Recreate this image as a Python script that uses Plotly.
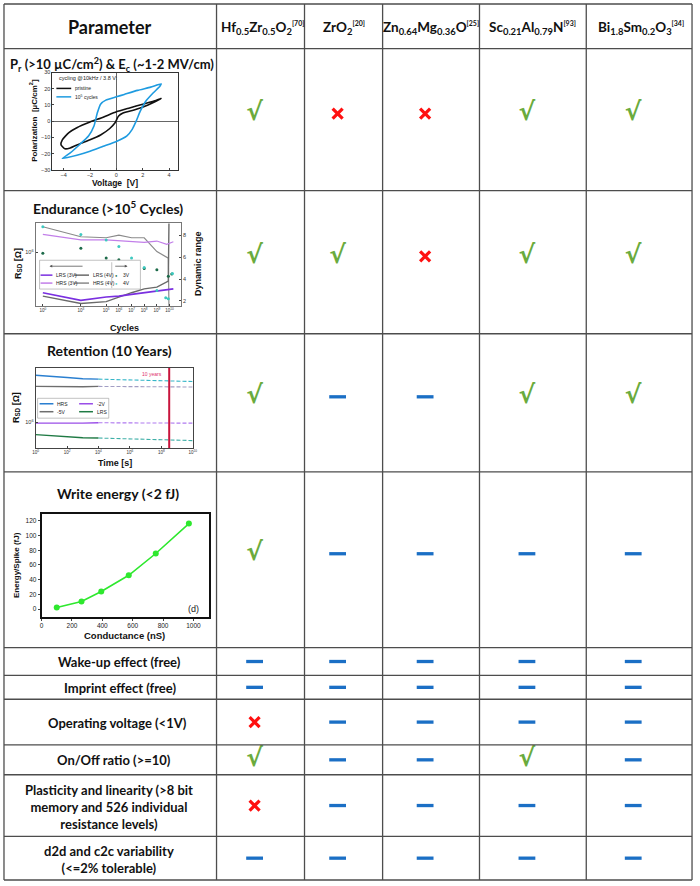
import plotly.graph_objects as go
import math

W, H = 700, 886
TF = "Lato, Carlito, sans-serif"
AF = "Liberation Sans, Arial, sans-serif"

# ---------------- table data ----------------
col_edges = [1, 216, 305, 384, 482, 590, 697]
row_edges = [1, 46, 189, 333, 472, 649, 677, 701, 747, 777, 839, 883]
header_label = "Parameter"
materials = [
    "Hf<sub>0.5</sub>Zr<sub>0.5</sub>O<sub>2</sub><sup>[70]</sup>",
    "ZrO<sub>2</sub><sup>[20]</sup>",
    "Zn<sub>0.64</sub>Mg<sub>0.36</sub>O<sup>[25]</sup>",
    "Sc<sub>0.21</sub>Al<sub>0.79</sub>N<sup>[93]</sup>",
    "Bi<sub>1.8</sub>Sm<sub>0.2</sub>O<sub>3</sub><sup>[34]</sup>",
]
parameters = [
    "P<sub>r</sub> (>10 µC/cm<sup>2</sup>) & E<sub>c</sub> (~1-2 MV/cm)",
    "Endurance (>10<sup>5</sup> Cycles)",
    "Retention (10 Years)",
    "Write energy (<2 fJ)",
    "Wake-up effect (free)",
    "Imprint effect (free)",
    "Operating voltage (<1V)",
    "On/Off ratio (>=10)",
    "Plasticity and linearity (>8 bit<br>memory and 526 individual<br>resistance levels)",
    "d2d and c2c variability<br>(<=2% tolerable)",
]
# Y = fulfilled (check), N = not fulfilled (cross), U = not reported (dash)
status = [
    ["Y", "N", "N", "Y", "Y"],
    ["Y", "Y", "N", "Y", "Y"],
    ["Y", "U", "U", "Y", "Y"],
    ["Y", "U", "U", "U", "U"],
    ["U", "U", "U", "U", "U"],
    ["U", "U", "U", "U", "U"],
    ["N", "U", "U", "U", "U"],
    ["Y", "U", "U", "Y", "U"],
    ["N", "U", "U", "U", "U"],
    ["U", "U", "U", "U", "U"],
]

# ---------------- chart 1: P-V hysteresis ----------------
pristine_v = [-4.2, -4.1, -3.6, -3.0, -2.0, -1.0, 0.0, 1.0, 2.0, 3.0, 3.4, 2.4, 1.4, 0.5, 0.15, -0.1, -0.5, -1.2, -2.0, -2.8, -3.5, -3.9, -4.2]
pristine_p = [-14.5, -11.5, -7.0, -4.0, -0.5, 2.5, 5.8, 8.2, 10.5, 12.8, 14.0, 10.0, 7.0, 5.0, 3.0, -1.0, -4.5, -8.5, -11.5, -14.0, -16.5, -17.0, -14.5]
cycled_v = [-4.1, -3.0, -2.0, -1.0, 0.0, 0.8, 1.2, 1.5, 1.8, 2.2, 2.8, 3.3, 3.4, 2.6, 1.6, 0.6, 0.0, -0.8, -1.2, -1.45, -1.7, -2.1, -2.8, -3.5, -4.1]
cycled_p = [-23.0, -21.0, -18.5, -15.5, -12.5, -9.0, -5.0, 0.0, 6.0, 12.0, 17.5, 21.5, 23.0, 21.0, 19.0, 16.5, 15.0, 13.0, 10.5, 5.0, -3.0, -9.0, -14.5, -19.5, -23.0]

# ---------------- chart 2: endurance ----------------
cycles_3v = [1, 1e3, 1e5, 1e6, 1e7, 1e8, 1e9, 6e9, 2e10]
lrs_3v = [2.72e5, 2.13e5, 2.37e5, 2.44e5, 2.58e5, 2.72e5, 2.92e5, 2.99e5, 3.08e5]
hrs_3v = [1.77e6, 1.48e6, 1.48e6, 1.45e6, 1.43e6, 1.37e6, 1.43e6, 1.29e6, 1.40e6]
cycles_4v = [1, 1e3, 1e5, 1e6, 1e7, 1e8, 1e9, 8e9, 9e9]
lrs_4v = [2.44e5, 1.92e5, 2.04e5, 2.37e5, 2.72e5, 3.08e5, 3.25e5, 3.94e5, 2.6e6]
hrs_4v = [2.26e6, 1.64e6, 1.59e6, 1.73e6, 1.59e6, 1.59e6, 1.02e6, 8.26e5, 1.7e5]
dr_cycles_3v = [1, 1e3, 1e5, 1e6, 1e7, 1e8, 1e9, 8e9, 1.5e10]
dr_3v = [6.35, 6.8, 5.9, 5.75, 5.45, 4.95, 4.85, 4.25, 4.45]
dr_cycles_4v = [1, 1e3, 1e5, 1e6, 1e7, 1e8, 1e9, 5e9, 8e9, 1.7e10]
dr_4v = [8.75, 8.05, 7.55, 6.95, 5.9, 5.05, 2.95, 2.3, 2.2, 4.5]
cyc_ticks = [1, 1e3, 1e5, 1e6, 1e7, 1e8, 1e9, 1e10, 1e11]

# ---------------- chart 3: retention ----------------
t_meas = [1, 10, 100, 1e3, 1e4]
t_proj = [1e4, 1e10]
hrs_meas = [3.47e6, 3.39e6, 3.27e6, 3.16e6, 3.13e6]
hrs_proj = [3.13e6, 2.94e6]
m5v_meas = [2.58e6, 2.57e6, 2.54e6, 2.56e6, 2.58e6]
m5v_proj = [2.58e6, 2.54e6]
m2v_meas = [9.7e5, 9.7e5, 9.6e5, 9.7e5, 9.8e5]
m2v_proj = [9.8e5, 9.7e5]
lrs_meas = [7.14e5, 6.92e5, 6.68e5, 6.58e5, 6.53e5]
lrs_proj = [6.53e5, 6.10e5]
ten_years_s = 3.15e8
time_ticks = [1, 1e2, 1e4, 1e6, 1e8, 1e10]

# ---------------- chart 4: write energy ----------------
conductance = [100, 263, 393, 574, 752, 970]
energy = [2.3, 10.4, 24, 46, 75.6, 116.3]

fig = go.Figure()

# chart 1 traces
fig.add_trace(go.Scatter(x=pristine_v, y=pristine_p, mode="lines", line=dict(color="#111", width=1.6, shape="spline", smoothing=0.5),
                         xaxis="x", yaxis="y", showlegend=False))
fig.add_trace(go.Scatter(x=cycled_v, y=cycled_p, mode="lines", line=dict(color="#1e9be0", width=1.6, shape="spline", smoothing=0.5),
                         xaxis="x", yaxis="y", showlegend=False))

# chart 2 traces
fig.add_trace(go.Scatter(x=cycles_4v, y=hrs_4v, mode="lines", line=dict(color="#8a8a8a", width=1.2), xaxis="x2", yaxis="y2", showlegend=False))
fig.add_trace(go.Scatter(x=cycles_4v, y=lrs_4v, mode="lines", line=dict(color="#6a6a6a", width=1.4), xaxis="x2", yaxis="y2", showlegend=False))
fig.add_trace(go.Scatter(x=cycles_3v, y=hrs_3v, mode="lines", line=dict(color="#c27fe9", width=1.2), xaxis="x2", yaxis="y2", showlegend=False))
fig.add_trace(go.Scatter(x=cycles_3v, y=lrs_3v, mode="lines", line=dict(color="#7a2fe0", width=1.6), xaxis="x2", yaxis="y2", showlegend=False))
fig.add_trace(go.Scatter(x=dr_cycles_3v, y=dr_3v, mode="markers", marker=dict(color="#1d6b4a", size=3), xaxis="x2", yaxis="y3", showlegend=False))
fig.add_trace(go.Scatter(x=dr_cycles_4v, y=dr_4v, mode="markers", marker=dict(color="#3ec9c0", size=3), xaxis="x2", yaxis="y3", showlegend=False))

# chart 3 traces
ret_series = [
    (hrs_meas, hrs_proj, "#2a7fd0", "#36b6c8"),
    (m5v_meas, m5v_proj, "#6e6e6e", "#a29ec4"),
    (m2v_meas, m2v_proj, "#9a4ee8", "#b07af0"),
    (lrs_meas, lrs_proj, "#1f7a44", "#40b0a8"),
]
for meas, proj, c1, c2 in ret_series:
    fig.add_trace(go.Scatter(x=t_meas, y=meas, mode="lines", line=dict(color=c1, width=1.4), xaxis="x3", yaxis="y4", showlegend=False))
    fig.add_trace(go.Scatter(x=t_proj, y=proj, mode="lines", line=dict(color=c2, width=1.1, dash="4px,2px"), xaxis="x3", yaxis="y4", showlegend=False))
ret_range = [5.7, 6.63]
fig.add_trace(go.Scatter(x=[ten_years_s, ten_years_s], y=[10 ** ret_range[0], 10 ** ret_range[1]], mode="lines",
                         line=dict(color="#c8143c", width=2), xaxis="x3", yaxis="y4", showlegend=False))

# chart 4 traces
fig.add_trace(go.Scatter(x=conductance, y=energy, mode="lines+markers", line=dict(color="#2ee82e", width=1.6),
                         marker=dict(color="#2ee82e", size=6), xaxis="x4", yaxis="y5", showlegend=False))

# table symbols
sym = {"Y": ([], []), "N": ([], []), "U": ([], [])}
for r, row in enumerate(status):
    top, bot = row_edges[r + 1], row_edges[r + 2]
    cy = (top + bot) / 2 - (6 if r < 4 else 0)
    for c, s in enumerate(row):
        cx = (col_edges[c + 1] + col_edges[c + 2]) / 2 - 6
        sym[s][0].append(cx)
        sym[s][1].append(cy)
fig.add_trace(go.Scatter(x=sym["Y"][0], y=sym["Y"][1], mode="text", text=["√"] * len(sym["Y"][0]),
                         textfont=dict(size=25, color="#6aab3d", family="DejaVu Sans", weight="bold"),
                         xaxis="x5", yaxis="y6", showlegend=False, hoverinfo="skip"))
fig.add_trace(go.Scatter(x=sym["N"][0], y=sym["N"][1], mode="markers",
                         marker=dict(symbol="x-thin", size=10, line=dict(color="#ff1010", width=3.2)),
                         xaxis="x5", yaxis="y6", showlegend=False, hoverinfo="skip"))
fig.add_trace(go.Scatter(x=sym["U"][0], y=sym["U"][1], mode="markers",
                         marker=dict(symbol="line-ew", size=12, line=dict(color="#1b6fc5", width=3.3)),
                         xaxis="x5", yaxis="y6", showlegend=False, hoverinfo="skip"))

shapes = []
annotations = []

# grid
for y in row_edges:
    shapes.append(dict(type="line", xref="x5", yref="y6", x0=col_edges[0], x1=col_edges[-1], y0=y, y1=y,
                       line=dict(color="#4d4d4d", width=1.3)))
for x in col_edges:
    shapes.append(dict(type="line", xref="x5", yref="y6", x0=x, x1=x, y0=row_edges[0], y1=row_edges[-1],
                       line=dict(color="#4d4d4d", width=1.3)))


def txt(x, y, text, size, family=TF, color="#111", xanchor="center", angle=0, bold=True):
    annotations.append(dict(xref="x5", yref="y6", x=x, y=y, text=("<b>%s</b>" % text) if bold else text,
                            showarrow=False, xanchor=xanchor, yanchor="middle", textangle=angle,
                            font=dict(size=size, family=family, color=color)))


# header
txt(108, 24, header_label, 18)
mat_x = [262, 345, 433, 536, 645]
for x, m in zip(mat_x, materials):
    txt(x, 25, m.replace("<sup>", "<sup><span style='font-size:7px'>").replace("</sup>", "</span></sup>"), 13.5)

label_x = [110, 106, 108, 116, 118, 118, 116, 112, 107, 107]
label_y = [62, 206, 350, 494, 663, 690, 725, 762, 809, 862]
label_size = [13, 14, 14, 14, 13, 13, 13, 13, 13, 13]
for x, y, s, p in zip(label_x, label_y, label_size, parameters):
    txt(x, y, p, s)


def leg_line(x0, y, length, color, text, width=1.5, dash="solid"):
    shapes.append(dict(type="line", xref="x5", yref="y6", x0=x0, x1=x0 + length, y0=y, y1=y,
                       line=dict(color=color, width=width, dash=dash)))
    txt(x0 + length + 2, y, text, 5, family=AF, color="#222", xanchor="left", bold=False)


# chart 1 legend + axis titles
txt(55, 76, "cycling @10kHz / 3.8 V:", 5.5, family=AF, color="#222", xanchor="left", bold=False)
leg_line(54, 86, 15, "#111", "pristine")
leg_line(54, 94.5, 15, "#1e9be0", "10<sup>5</sup> cycles")
txt(31, 118, "Polarization  [µC/cm<sup>2</sup>]", 8, family=AF, angle=-90)
txt(113, 181, "Voltage  [V]", 8.5, family=AF)

# chart 2 legend + axis titles
shapes.append(dict(type="rect", xref="x5", yref="y6", x0=37, x1=139, y0=259, y1=288,
                   line=dict(color="#999", width=0.6), fillcolor="white"))
shapes.append(dict(type="line", xref="x5", yref="y6", x0=110, x1=110, y0=261, y1=287, line=dict(color="#999", width=0.6)))
annotations.append(dict(xref="x5", yref="y6", x=47, y=265, ax=82, ay=265, axref="x5", ayref="y6", text="",
                        showarrow=True, arrowhead=2, arrowsize=0.7, arrowwidth=0.8, arrowcolor="#555"))
annotations.append(dict(xref="x5", yref="y6", x=126, y=265, ax=112, ay=265, axref="x5", ayref="y6", text="",
                        showarrow=True, arrowhead=2, arrowsize=0.7, arrowwidth=0.8, arrowcolor="#555"))
leg_line(38, 274, 12, "#7a2fe0", "LRS (3V)")
leg_line(38, 282, 12, "#c27fe9", "HRS (3V)")
leg_line(72, 274, 15, "#6a6a6a", "LRS (4V)")
leg_line(72, 282, 15, "#8a8a8a", "HRS (4V)")
txt(115, 274, "●", 4, family=AF, color="#1d6b4a", bold=False)
txt(115, 282, "●", 4, family=AF, color="#3ec9c0", bold=False)
txt(119, 274, "3V", 5, family=AF, color="#222", xanchor="left", bold=False)
txt(119, 282, "4V", 5, family=AF, color="#222", xanchor="left", bold=False)
txt(15, 262, "R<sub>SD</sub> [Ω]", 9, family=AF, angle=-90)
txt(197, 262, "Dynamic range", 9, family=AF, angle=-90)
txt(123, 327, "Cycles", 9, family=AF)

# chart 3 legend + axis titles
shapes.append(dict(type="rect", xref="x5", yref="y6", x0=35, x1=107, y0=398, y1=418,
                   line=dict(color="#999", width=0.6), fillcolor="white"))
leg_line(37, 403.5, 14, "#2a7fd0", "HRS")
leg_line(37, 411.5, 14, "#6e6e6e", "-5V")
leg_line(77, 403.5, 14, "#9a4ee8", "-2V")
leg_line(77, 411.5, 14, "#1f7a44", "LRS")
txt(163, 374, "10 years", 5, family=AF, color="#e0306a", xanchor="right", bold=False)
txt(13, 407, "R<sub>SD</sub> [Ω]", 9, family=AF, angle=-90)
txt(113, 463, "Time [s]", 9, family=AF)

# chart 4 labels
txt(193, 610, "(d)", 9, family=AF, color="#222", bold=False)
txt(13, 566, "Energy/Spike (fJ)", 8, family=AF, angle=-90)
txt(123, 637, "Conductance (nS)", 9.5, family=AF)


def axis(**kw):
    d = dict(showgrid=False, zeroline=False, showline=True, mirror=True, ticks="inside", ticklen=2,
             tickwidth=0.8, linewidth=1, linecolor="#333", tickfont=dict(size=5.5, family=AF, color="#333"),
             fixedrange=True)
    d.update(kw)
    return d


def sup10(v):
    return "10<sup>%d</sup>" % round(math.log10(v))


layout = dict(
    width=W, height=H, margin=dict(l=0, r=0, t=0, b=0),
    paper_bgcolor="white", plot_bgcolor="rgba(0,0,0,0)", showlegend=False,
    shapes=shapes, annotations=annotations,
    xaxis=axis(domain=[50 / W, 177 / W], range=[-4.85, 4.67], tickvals=[-4, -2, 0, 2, 4], anchor="y",
               zeroline=True, zerolinecolor="#666", zerolinewidth=1),
    yaxis=axis(domain=[1 - 168 / H, 1 - 70 / H], range=[-30, 30], dtick=10, anchor="x",
               zeroline=True, zerolinecolor="#666", zerolinewidth=1),
    xaxis2=axis(domain=[33 / W, 180 / W], type="log", range=[-0.57, 10.9], tickvals=cyc_ticks,
                ticktext=[sup10(v) for v in cyc_ticks], anchor="y2", linecolor="#777", tickfont=dict(size=4.5, family=AF, color="#333")),
    yaxis2=axis(domain=[1 - 305 / H, 1 - 222 / H], type="log", range=[5.25, 6.4], tickvals=[1e6], ticktext=["10<sup>6</sup>"],
                anchor="x2", linecolor="#777", mirror=False),
    yaxis3=axis(overlaying="y2", side="right", range=[1.55, 9.05], tickvals=[2, 4, 6, 8], anchor="x2",
                linecolor="#777", mirror=False),
    xaxis3=axis(domain=[33 / W, 192 / W], type="log", range=[0, 10], tickvals=time_ticks,
                ticktext=[sup10(v) for v in time_ticks], anchor="y4", linecolor="#444", tickfont=dict(size=4.5, family=AF, color="#333")),
    yaxis4=axis(domain=[1 - 448 / H, 1 - 367 / H], type="log", range=ret_range, tickvals=[1e6], ticktext=["10<sup>6</sup>"],
                anchor="x3", linecolor="#444"),
    xaxis4=axis(domain=[39 / W, 208 / W], range=[0, 1100], tickvals=[0, 200, 400, 600, 800, 1000], anchor="y5",
                linecolor="#111", linewidth=1.6, ticks="outside", tickfont=dict(size=6.5, family=AF, color="#222")),
    yaxis5=axis(domain=[1 - 618 / H, 1 - 514 / H], range=[-10.5, 130], tickvals=[0, 20, 40, 60, 80, 100, 120], anchor="x4",
                linecolor="#111", linewidth=1.6, ticks="outside", tickfont=dict(size=6.5, family=AF, color="#222")),
    xaxis5=dict(domain=[0, 1], range=[0, W], visible=False, anchor="y6", fixedrange=True),
    yaxis6=dict(domain=[0, 1], range=[H, 0], visible=False, anchor="x5", fixedrange=True),
)
fig.update_layout(**layout)
fig.write_html("out.html", config={"displayModeBar": False},
               post_script="document.body.style.margin='0';document.body.style.overflow='hidden';")
